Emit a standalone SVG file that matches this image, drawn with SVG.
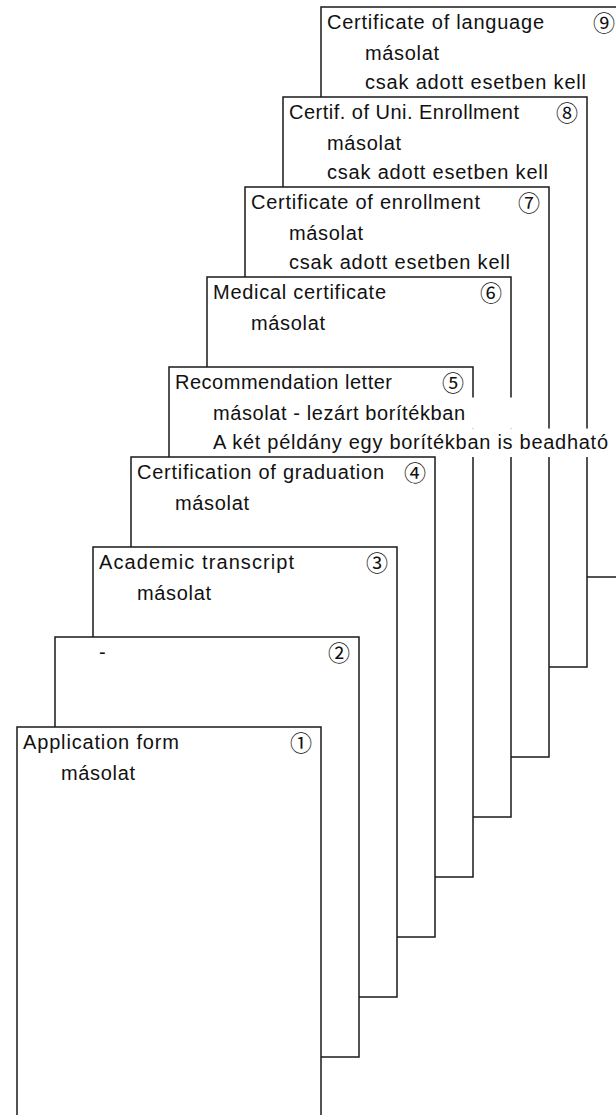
<svg xmlns="http://www.w3.org/2000/svg" width="616" height="1115" viewBox="0 0 616 1115">
<style>
.box{fill:#fff;stroke:#1a1a1a;stroke-width:1.5}
.bg{fill:#fff;stroke:none}
.t{font-family:"Liberation Sans",Arial,sans-serif;font-size:20px;fill:#111}
.n{font-family:"Noto Sans CJK JP","DejaVu Sans",sans-serif;font-size:22px;fill:#111;text-anchor:middle}
</style>
<rect width="616" height="1115" fill="#fff"/>
<g id="doc9">
<rect class="box" x="321" y="7" width="304" height="570"/>
<text class="t" x="327" y="29" textLength="217" lengthAdjust="spacing">Certificate of language</text>
<text class="t" x="365" y="59.5" textLength="74" lengthAdjust="spacing">másolat</text>
<text class="t" x="365" y="89" textLength="221" lengthAdjust="spacing">csak adott esetben kell</text>
<text class="n" x="604" y="31">⑨</text>
</g>
<g id="doc8">
<rect class="box" x="283" y="97" width="304" height="570"/>
<text class="t" x="289" y="119" textLength="230" lengthAdjust="spacing">Certif. of Uni. Enrollment</text>
<text class="t" x="327" y="149.5" textLength="74" lengthAdjust="spacing">másolat</text>
<text class="t" x="327" y="179" textLength="221" lengthAdjust="spacing">csak adott esetben kell</text>
<text class="n" x="567" y="121">⑧</text>
</g>
<g id="doc7">
<rect class="box" x="245" y="187" width="304" height="570"/>
<text class="t" x="251" y="209" textLength="229" lengthAdjust="spacing">Certificate of enrollment</text>
<text class="t" x="289" y="239.5" textLength="74" lengthAdjust="spacing">másolat</text>
<text class="t" x="289" y="269" textLength="221" lengthAdjust="spacing">csak adott esetben kell</text>
<text class="n" x="529" y="211">⑦</text>
</g>
<g id="doc6">
<rect class="box" x="207" y="277" width="304" height="540"/>
<text class="t" x="213" y="299" textLength="173" lengthAdjust="spacing">Medical certificate</text>
<text class="t" x="251" y="329.5" textLength="74" lengthAdjust="spacing">másolat</text>
<text class="n" x="491" y="301">⑥</text>
</g>
<g id="doc5">
<rect class="box" x="169" y="367" width="304" height="510"/>
<rect class="bg" x="211" y="397.5" width="320" height="31"/>
<rect class="bg" x="211" y="428.5" width="400" height="28.5"/>
<text class="t" x="175" y="389" textLength="217" lengthAdjust="spacing">Recommendation letter</text>
<text class="t" x="213" y="419.5" textLength="252" lengthAdjust="spacing">másolat - lezárt borítékban</text>
<text class="t" x="213" y="449" textLength="395" lengthAdjust="spacing">A két példány egy borítékban is beadható</text>
<text class="n" x="453" y="391">⑤</text>
</g>
<g id="doc4">
<rect class="box" x="131" y="457" width="304" height="480"/>
<text class="t" x="137" y="479" textLength="247" lengthAdjust="spacing">Certification of graduation</text>
<text class="t" x="175" y="509.5" textLength="74" lengthAdjust="spacing">másolat</text>
<text class="n" x="415" y="481">④</text>
</g>
<g id="doc3">
<rect class="box" x="93" y="547" width="304" height="450"/>
<text class="t" x="99" y="569" textLength="195" lengthAdjust="spacing">Academic transcript</text>
<text class="t" x="137" y="599.5" textLength="74" lengthAdjust="spacing">másolat</text>
<text class="n" x="377" y="571">③</text>
</g>
<g id="doc2">
<rect class="box" x="55" y="637" width="304" height="420"/>
<text class="t" x="99" y="659">-</text>
<text class="n" x="339" y="661">②</text>
</g>
<g id="doc1">
<rect class="box" x="17" y="727" width="304" height="392"/>
<text class="t" x="23" y="749" textLength="156" lengthAdjust="spacing">Application form</text>
<text class="t" x="61" y="779.5" textLength="74" lengthAdjust="spacing">másolat</text>
<text class="n" x="301" y="751">①</text>
</g>
</svg>
